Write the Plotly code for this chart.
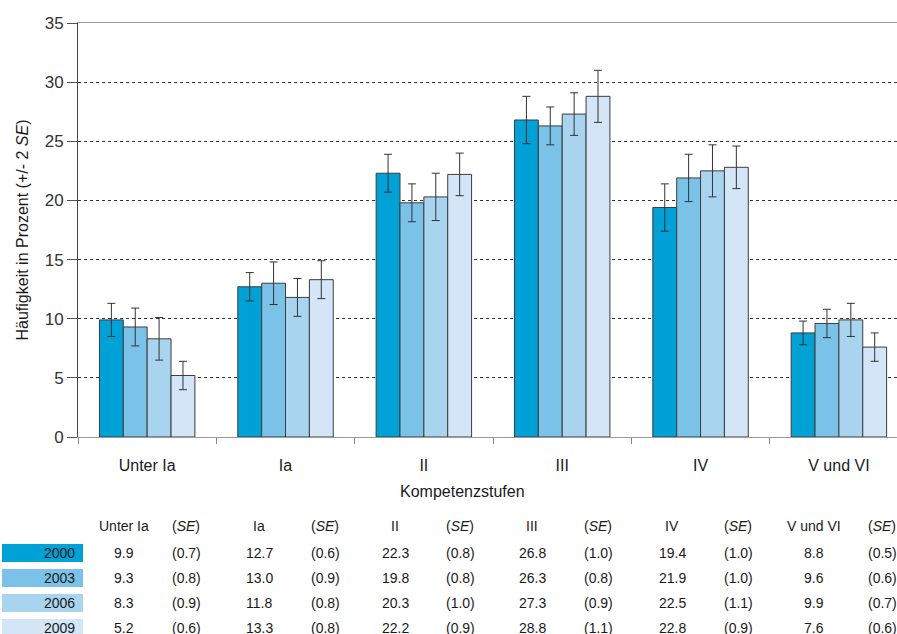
import plotly.graph_objects as go

# Kompetenzstufen and survey years
levels = ["Unter Ia", "Ia", "II", "III", "IV", "V und VI"]
years = ["2000", "2003", "2006", "2009"]

# Percentages per year (one list per year, ordered like `levels`)
pct_2000 = [9.9, 12.7, 22.3, 26.8, 19.4, 8.8]
pct_2003 = [9.3, 13.0, 19.8, 26.3, 21.9, 9.6]
pct_2006 = [8.3, 11.8, 20.3, 27.3, 22.5, 9.9]
pct_2009 = [5.2, 13.3, 22.2, 28.8, 22.8, 7.6]

# Standard errors
se_2000 = [0.7, 0.6, 0.8, 1.0, 1.0, 0.5]
se_2003 = [0.8, 0.9, 0.8, 0.8, 1.0, 0.6]
se_2006 = [0.9, 0.8, 1.0, 0.9, 1.1, 0.7]
se_2009 = [0.6, 0.8, 0.9, 1.1, 0.9, 0.6]

pct = [pct_2000, pct_2003, pct_2006, pct_2009]
se = [se_2000, se_2003, se_2006, se_2009]
colors = ["#00a1d6", "#7ac2e8", "#a9d4f0", "#d3e5f6"]

FONT = "Liberation Sans, Arial, sans-serif"
W, H = 897, 634
L, T, B_PX = 78, 23, 437          # plot area left edge, top, bottom (pixels)
PLOT_W = W - L
PLOT_H = B_PX - T


def px_x(px):
    return (px - L) / PLOT_W


def px_y(py):
    return (B_PX - py) / PLOT_H


fig = go.Figure()
for yr, vals, errs, col in zip(years, pct, se, colors):
    fig.add_trace(go.Bar(
        x=levels, y=vals, name=yr,
        marker=dict(color=col, line=dict(color="#3c3c3c", width=1)),
        error_y=dict(type="data", array=[2 * e for e in errs], visible=True,
                     color="#333333", thickness=1, width=4),
        showlegend=False,
    ))

# Table below the chart
row_y = [553, 578, 603, 628]
val_x = [124, 259, 395, 532, 672, 814]
se_x = [186, 325, 460, 598, 738, 882]
ann = []
shapes = []
txt = dict(family=FONT, size=14, color="#1a1a1a")
for lv, vx, sx in zip(levels, val_x, se_x):
    ann.append(dict(x=px_x(vx), y=px_y(526), xref="paper", yref="paper",
                    text=lv, showarrow=False, font=txt,
                    xanchor="center", yanchor="middle"))
    ann.append(dict(x=px_x(sx), y=px_y(526), xref="paper", yref="paper",
                    text="(<i>SE</i>)", showarrow=False, font=txt,
                    xanchor="center", yanchor="middle"))

for i, (yr, vals, errs, col) in enumerate(zip(years, pct, se, colors)):
    ry = row_y[i]
    shapes.append(dict(type="rect", xref="paper", yref="paper",
                       x0=px_x(2), x1=px_x(83), y0=px_y(ry - 9), y1=px_y(ry + 9),
                       fillcolor=col, line=dict(width=0), layer="above"))
    ann.append(dict(x=px_x(77), y=px_y(ry), xref="paper", yref="paper",
                    text=yr, showarrow=False, font=txt,
                    xanchor="right", yanchor="middle"))
    for v, e, vx, sx in zip(vals, errs, val_x, se_x):
        ann.append(dict(x=px_x(vx), y=px_y(ry), xref="paper", yref="paper",
                        text=f"{v:.1f}", showarrow=False, font=txt,
                        xanchor="center", yanchor="middle"))
        ann.append(dict(x=px_x(sx), y=px_y(ry), xref="paper", yref="paper",
                        text=f"({e:.1f})", showarrow=False, font=txt,
                        xanchor="center", yanchor="middle"))

# x-axis title
ann.append(dict(x=px_x(462), y=px_y(492), xref="paper", yref="paper",
                text="Kompetenzstufen", showarrow=False,
                font=dict(family=FONT, size=16, color="#1a1a1a"),
                xanchor="center", yanchor="middle"))

fig.update_layout(
    width=W, height=H,
    margin=dict(l=L, r=0, t=T, b=H - B_PX, pad=0),
    paper_bgcolor="white", plot_bgcolor="white",
    barmode="group", bargap=0.31, bargroupgap=0,
    font=dict(family=FONT, color="#1a1a1a"),
    annotations=ann, shapes=shapes,
    xaxis=dict(
        type="category", range=[-0.5, 5.42],
        tickson="boundaries", ticks="outside", ticklen=6, tickcolor="#888888",
        ticklabelstandoff=14,
        showline=True, linecolor="#999999", linewidth=1, mirror=True,
        showgrid=False, tickfont=dict(family=FONT, size=16, color="#1a1a1a"),
    ),
    yaxis=dict(
        range=[0, 35], tickvals=[0, 5, 10, 15, 20, 25, 30, 35],
        ticks="outside", ticklen=10, tickcolor="#555555",
        showline=True, linecolor="#444444", linewidth=1,
        showgrid=True, gridcolor="#333333", griddash="dot", gridwidth=1,
        zeroline=False,
        tickfont=dict(family=FONT, size=17, color="#333333"),
        title=dict(text="Häufigkeit in Prozent (+/- 2 <i>SE</i>)",
                   font=dict(family=FONT, size=16, color="#1a1a1a"),
                   standoff=12),
    ),
)

fig.write_html("out.html")
